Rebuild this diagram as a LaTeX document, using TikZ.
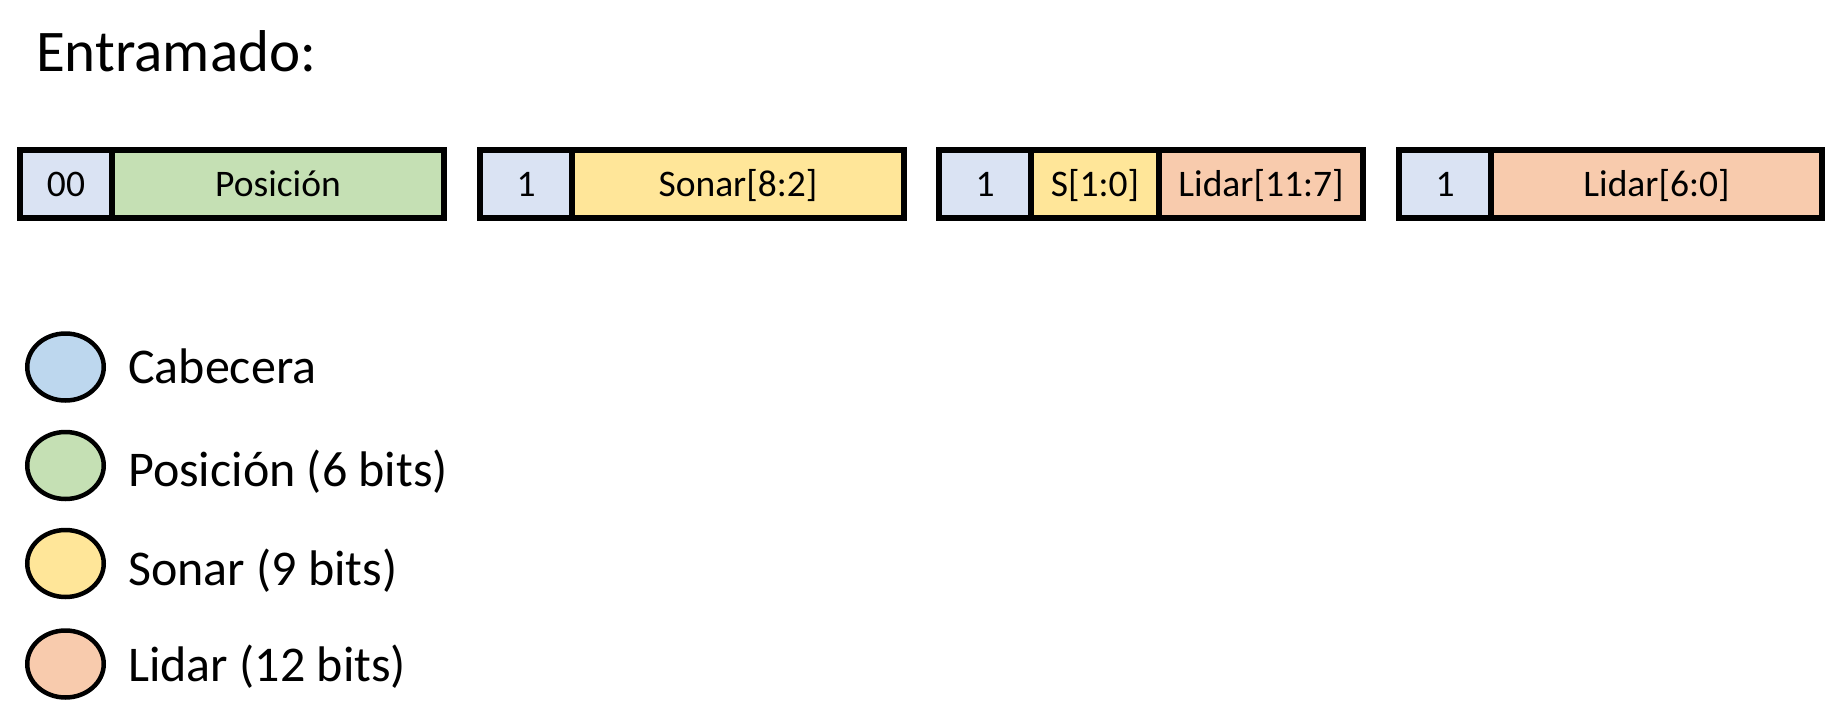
\documentclass[tikz,border=0pt]{standalone}
\usepackage{fontspec}
\setmainfont{Carlito}
\usetikzlibrary{shapes.geometric}
\definecolor{hdrbox}{HTML}{DAE3F3}
\definecolor{hdrleg}{HTML}{BDD7EE}
\definecolor{posc}{HTML}{C5E0B4}
\definecolor{sonc}{HTML}{FFE699}
\definecolor{lidc}{HTML}{F8CBAD}
\begin{document}
\begin{tikzpicture}[x=1pt,y=-1pt,
  cell/.style={draw=black, line width=6pt, rectangle, minimum height=68pt,
    inner sep=0pt, outer sep=0pt, text height=30pt, text depth=6pt,
    font=\fontsize{37.5}{42}\selectfont},
  legdot/.style={ellipse, draw=black, line width=4.5pt, minimum width=76.5pt,
    minimum height=67pt, inner sep=0pt},
  legtext/.style={anchor=base west, inner sep=0pt,
    font=\fontsize{50}{58}\selectfont}]
\useasboundingbox (0,0) rectangle (1826,725);

\node[anchor=base west, inner sep=0pt, font=\fontsize{59}{67}\selectfont] (title) at (36,72) {Entramado:};

% frame 1
\node[cell, fill=hdrbox, minimum width=92pt] (h1) at (66,184) {00};
\node[cell, fill=posc, minimum width=332pt] (p1) at (278,184) {Posición};
% frame 2
\node[cell, fill=hdrbox, minimum width=92pt] (h2) at (526,184) {1};
\node[cell, fill=sonc, minimum width=332pt] (s2) at (738,184) {Sonar[8:2]};
% frame 3
\node[cell, fill=hdrbox, minimum width=92pt] (h3) at (985,184) {1};
\node[cell, fill=sonc, minimum width=128pt] (s3) at (1095,184) {S[1:0]};
\node[cell, fill=lidc, minimum width=204pt] (l3) at (1261,184) {Lidar[11:7]};
% frame 4
\node[cell, fill=hdrbox, minimum width=92pt] (h4) at (1445,184) {1};
\node[cell, fill=lidc, minimum width=331pt] (l4) at (1656.5,184) {Lidar[6:0]};

% legend
\node[legdot, fill=hdrleg] (e1) at (65.5,367) {};
\node[legdot, fill=posc] (e2) at (65.5,465.5) {};
\node[legdot, fill=sonc] (e3) at (65.5,563.5) {};
\node[legdot, fill=lidc] (e4) at (65.5,664) {};
\node[legtext] (t1) at (128,383) {Cabecera};
\node[legtext] (t2) at (128,486) {Posición (6 bits)};
\node[legtext] (t3) at (128,585) {Sonar (9 bits)};
\node[legtext] (t4) at (128,681) {Lidar (12 bits)};
\end{tikzpicture}
\end{document}
